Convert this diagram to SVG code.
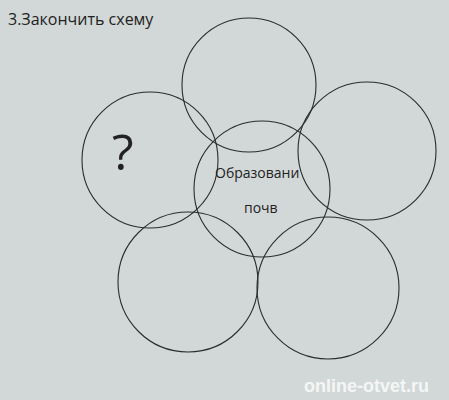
<svg xmlns="http://www.w3.org/2000/svg" width="449" height="400" viewBox="0 0 449 400">
<style>
.c{fill:none;stroke:#2a2c2c;stroke-width:1.1}
.t{font-family:"Open Sans","Liberation Sans",sans-serif;fill:#222}
</style>
<rect width="449" height="400" fill="#d2d8d7"/>
<text class="t" x="8" y="25" font-size="16">3.Закончить схему</text>
<g id="top"><circle class="c" cx="249" cy="85" r="67"/></g>
<g id="left"><circle class="c" cx="150" cy="160" r="68"/><text class="t" x="112" y="170" font-size="50">?</text></g>
<g id="right"><circle class="c" cx="367" cy="151" r="69"/></g>
<g id="bottom-left"><circle class="c" cx="188" cy="282" r="70"/></g>
<g id="bottom-right"><circle class="c" cx="328" cy="288" r="71"/></g>
<g id="center"><circle class="c" cx="262" cy="189" r="68"/>
<text class="t" x="215" y="178" font-size="14">Образовани</text>
<text class="t" x="244" y="213" font-size="14">почв</text></g>
<text x="304" y="392" font-family="'Liberation Sans',Arial,sans-serif" font-weight="bold" font-size="18" fill="#f4f6f6">online-otvet.ru</text>
</svg>
